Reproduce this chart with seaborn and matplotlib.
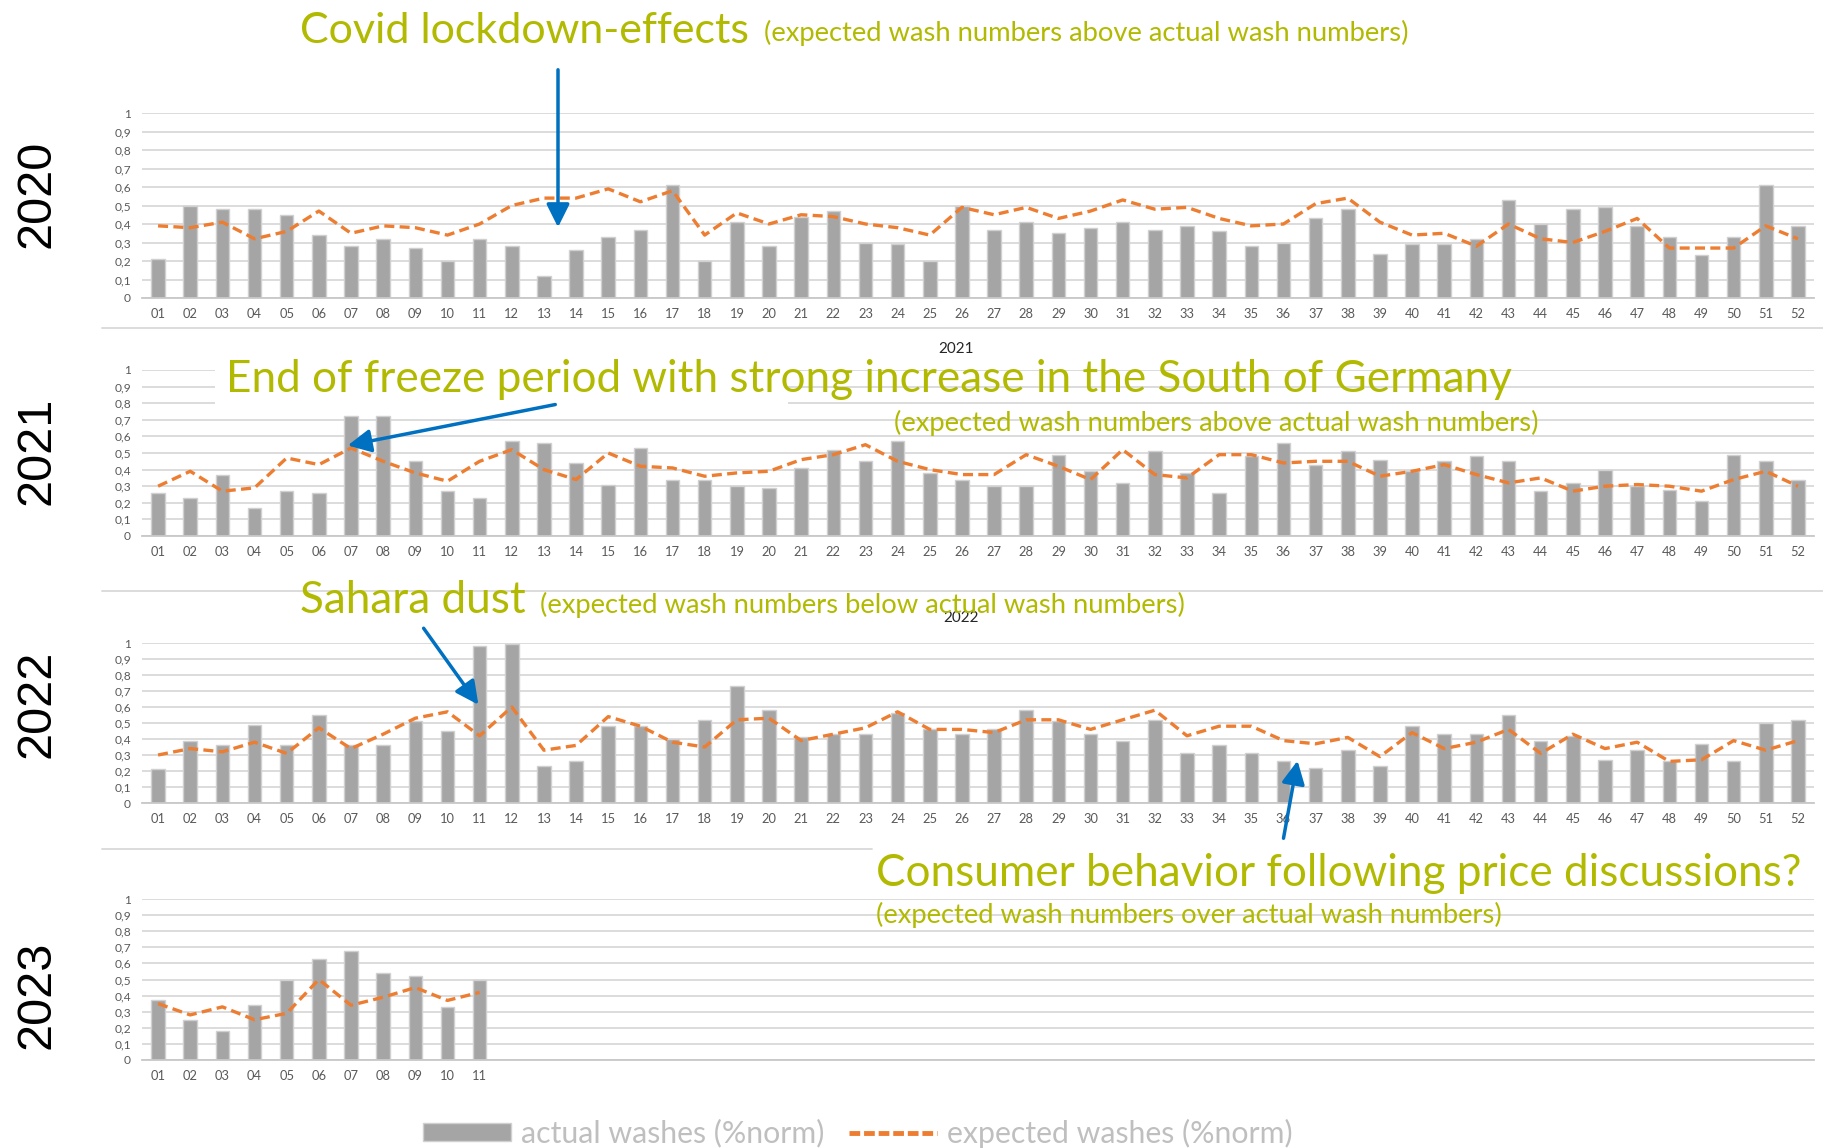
import numpy as np
import pandas as pd
import matplotlib
matplotlib.use("Agg")
import matplotlib.pyplot as plt
from matplotlib.patches import Patch, FancyArrowPatch, Rectangle
from matplotlib.lines import Line2D
import seaborn as sns

# ---- data ----
weeks = [f"{i:02d}" for i in range(1, 53)]

actual_2020 = [0.21, 0.50, 0.48, 0.48, 0.45, 0.34, 0.28, 0.32, 0.27, 0.20,
               0.32, 0.28, 0.12, 0.26, 0.33, 0.37, 0.61, 0.20, 0.41, 0.28,
               0.44, 0.47, 0.30, 0.29, 0.20, 0.50, 0.37, 0.41, 0.35, 0.38,
               0.41, 0.37, 0.39, 0.36, 0.28, 0.30, 0.43, 0.48, 0.24, 0.29,
               0.29, 0.32, 0.53, 0.40, 0.48, 0.49, 0.39, 0.33, 0.23, 0.33,
               0.61, 0.39]
expected_2020 = [0.39, 0.38, 0.41, 0.32, 0.36, 0.47, 0.35, 0.39, 0.38, 0.34,
                 0.40, 0.50, 0.54, 0.54, 0.59, 0.52, 0.58, 0.34, 0.46, 0.40,
                 0.45, 0.44, 0.40, 0.38, 0.34, 0.49, 0.45, 0.49, 0.43, 0.47,
                 0.53, 0.48, 0.49, 0.43, 0.39, 0.40, 0.51, 0.54, 0.41, 0.34,
                 0.35, 0.28, 0.40, 0.32, 0.30, 0.36, 0.43, 0.27, 0.27, 0.27,
                 0.39, 0.32]

actual_2021 = [0.26, 0.23, 0.37, 0.17, 0.27, 0.26, 0.72, 0.72, 0.45, 0.27,
               0.23, 0.57, 0.56, 0.44, 0.31, 0.53, 0.34, 0.34, 0.30, 0.29,
               0.41, 0.52, 0.45, 0.57, 0.38, 0.34, 0.30, 0.30, 0.49, 0.39,
               0.32, 0.51, 0.38, 0.26, 0.48, 0.56, 0.43, 0.51, 0.46, 0.39,
               0.45, 0.48, 0.45, 0.27, 0.32, 0.40, 0.30, 0.28, 0.21, 0.49,
               0.45, 0.34]
expected_2021 = [0.30, 0.39, 0.27, 0.29, 0.47, 0.43, 0.53, 0.45, 0.38, 0.33,
                 0.45, 0.52, 0.40, 0.34, 0.50, 0.42, 0.41, 0.36, 0.38, 0.39,
                 0.46, 0.49, 0.55, 0.45, 0.40, 0.37, 0.37, 0.49, 0.42, 0.34,
                 0.52, 0.37, 0.35, 0.49, 0.49, 0.44, 0.45, 0.45, 0.36, 0.39,
                 0.43, 0.37, 0.32, 0.35, 0.27, 0.30, 0.31, 0.30, 0.27, 0.34,
                 0.39, 0.30]

actual_2022 = [0.21, 0.39, 0.36, 0.49, 0.36, 0.55, 0.36, 0.36, 0.51, 0.45,
               0.98, 0.995, 0.23, 0.26, 0.48, 0.48, 0.40, 0.52, 0.73, 0.58,
               0.41, 0.43, 0.43, 0.56, 0.46, 0.43, 0.46, 0.58, 0.51, 0.43,
               0.39, 0.52, 0.31, 0.36, 0.31, 0.26, 0.22, 0.33, 0.23, 0.48,
               0.43, 0.43, 0.55, 0.39, 0.42, 0.27, 0.33, 0.26, 0.37, 0.26,
               0.50, 0.52]
expected_2022 = [0.30, 0.34, 0.32, 0.38, 0.31, 0.47, 0.34, 0.43, 0.53, 0.57,
                 0.42, 0.60, 0.33, 0.36, 0.54, 0.48, 0.38, 0.35, 0.52, 0.53,
                 0.39, 0.43, 0.47, 0.57, 0.46, 0.46, 0.44, 0.52, 0.52, 0.46,
                 0.52, 0.58, 0.42, 0.48, 0.48, 0.39, 0.37, 0.41, 0.29, 0.44,
                 0.34, 0.38, 0.46, 0.31, 0.43, 0.34, 0.38, 0.26, 0.27, 0.39,
                 0.33, 0.39]

actual_2023 = [0.37, 0.25, 0.18, 0.34, 0.50, 0.63, 0.68, 0.54, 0.52, 0.33, 0.50]
expected_2023 = [0.35, 0.28, 0.33, 0.25, 0.29, 0.50, 0.34, 0.39, 0.45, 0.37, 0.42]

ytick_values = [0, 0.1, 0.2, 0.3, 0.4, 0.5, 0.6, 0.7, 0.8, 0.9, 1]
ytick_labels = ["0", "0,1", "0,2", "0,3", "0,4", "0,5", "0,6", "0,7", "0,8", "0,9", "1"]

# ---- style ----
W, H = 1824, 1148
GREEN = "#B1BA00"
BLUE = "#0070C0"
BAR = "#A5A5A5"
ORANGE = "#ED7D31"
GRID = "#D9D9D9"
BIG = 31.8
SMALL = 19.7


def fx(x):
    return x / W


def fy(y):
    return 1 - y / H


sns.set_theme(style="white")
plt.rcParams["font.family"] = ["Lato", "DejaVu Sans"]

fig = plt.figure(figsize=(W / 100, H / 100), dpi=100)

# (year, actual, expected, top px, bottom px, year label y px)
panels = [
    ("2020", actual_2020, expected_2020, 113, 298, 194),
    ("2021", actual_2021, expected_2021, 370, 536, 451),
    ("2022", actual_2022, expected_2022, 643, 803, 704),
    ("2023", actual_2023, expected_2023, 899, 1060, 995),
]

for year, actual, expected, top, bottom, label_y in panels:
    ax = fig.add_axes([fx(142), fy(bottom), fx(1814) - fx(142), (bottom - top) / H])
    n = len(actual)
    df = pd.DataFrame({"pos": np.arange(n), "actual": actual, "expected": expected})
    sns.barplot(data=df, x="pos", y="actual", native_scale=True, orient="x",
                width=0.42, color=BAR, saturation=1, edgecolor="#D0D0D0",
                linewidth=1, errorbar=None, ax=ax, zorder=2)
    sns.lineplot(data=df, x="pos", y="expected", color=ORANGE, lw=2.4,
                 linestyle=(0, (3, 1.6)), ax=ax, zorder=3)
    ax.set_xlim(-0.5, 51.5)
    ax.set_ylim(0, 1)
    ax.set_xticks(range(n))
    ax.set_xticklabels(weeks[:n])
    ax.set_yticks(ytick_values)
    ax.set_yticklabels(ytick_labels)
    ax.set_xlabel("")
    ax.set_ylabel("")
    ax.yaxis.grid(True, color=GRID, lw=1.3)
    ax.set_axisbelow(True)
    for side in ["top", "left", "right"]:
        ax.spines[side].set_visible(False)
    ax.spines["bottom"].set_color("#C8C8C8")
    ax.spines["bottom"].set_linewidth(1.3)
    ax.tick_params(axis="x", length=0, labelsize=9.3, colors="#595959", pad=7)
    ax.tick_params(axis="y", length=0, labelsize=8.6, colors="#595959", pad=8)

    fig.text(fx(37), fy(label_y), year, rotation=90, ha="center", va="center",
             fontsize=35, color="black", family="Liberation Sans")

# small chart titles
fig.text(fx(956), fy(349), "2021", ha="center", va="center", fontsize=11, color="#262626")
fig.text(fx(961), fy(618), "2022", ha="center", va="center", fontsize=11, color="#262626")

# separator lines between the charts
for y, x1 in [(328, 1824), (591, 1824), (849, 872)]:
    fig.add_artist(Line2D([fx(102), fx(x1)], [fy(y), fy(y)], color=GRID, lw=1.3))

# white text box that hides the grid behind the 2021 annotation
fig.add_artist(Rectangle((fx(215), fy(412)), fx(788) - fx(215), (412 - 360) / H,
                         transform=fig.transFigure, facecolor="white",
                         edgecolor="none", zorder=1))

# annotations
fig.text(fx(300), fy(43), "Covid lockdown-effects", fontsize=31, color=GREEN, va="baseline")
fig.text(fx(764), fy(41), "(expected wash numbers above actual wash numbers)",
         fontsize=SMALL, color=GREEN, va="baseline")
fig.text(fx(226), fy(392), "End of freeze period with strong increase in the South of Germany",
         fontsize=BIG, color=GREEN, va="baseline", zorder=3)
fig.text(fx(894), fy(431), "(expected wash numbers above actual wash numbers)",
         fontsize=SMALL, color=GREEN, va="baseline")
fig.text(fx(300), fy(613), "Sahara dust", fontsize=BIG, color=GREEN, va="baseline")
fig.text(fx(540), fy(613), "(expected wash numbers below actual wash numbers)",
         fontsize=SMALL, color=GREEN, va="baseline")
fig.text(fx(876), fy(886), "Consumer behavior following price discussions?",
         fontsize=BIG, color=GREEN, va="baseline")
fig.text(fx(876), fy(923), "(expected wash numbers over actual wash numbers)",
         fontsize=SMALL, color=GREEN, va="baseline")

for x0, y0, x1, y1 in [(558, 67, 558, 230), (558, 404, 345, 446),
                       (422, 626, 480, 707), (1283, 841, 1298, 758)]:
    fig.add_artist(FancyArrowPatch((fx(x0), fy(y0)), (fx(x1), fy(y1)),
                                   transform=fig.transFigure,
                                   arrowstyle="-|>,head_length=0.7,head_width=0.35",
                                   mutation_scale=20, lw=2.5, color=BLUE, zorder=4))

# legend
handles = [
    Patch(facecolor=BAR, edgecolor="#D0D0D0", label="actual washes (%norm)"),
    Line2D([0], [0], color=ORANGE, lw=3.5, linestyle=(0, (2.2, 0.8)),
           label="expected washes (%norm)"),
]
fig.legend(handles=handles, loc="center", bbox_to_anchor=(fx(858), fy(1133)),
           ncol=2, frameon=False, fontsize=21.8, labelcolor="#BFBFBF",
           handlelength=2.9, handleheight=0.55, handletextpad=0.35, columnspacing=0.8)

fig.savefig("out.png", dpi=100)
